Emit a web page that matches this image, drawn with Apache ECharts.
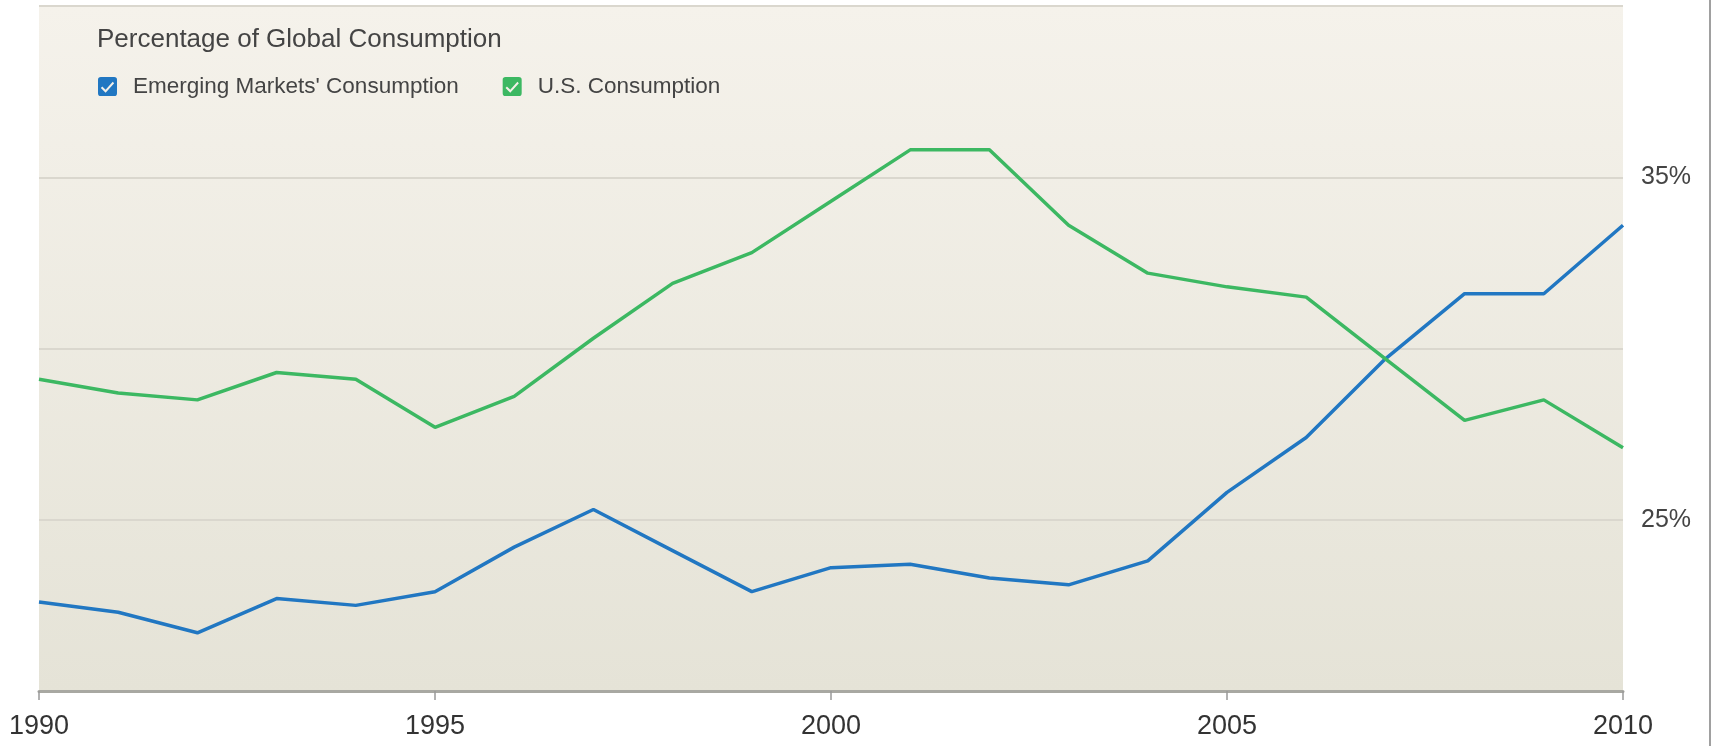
<!DOCTYPE html>
<html>
<head>
<meta charset="utf-8">
<title>Percentage of Global Consumption</title>
<script src="https://cdn.jsdelivr.net/npm/echarts@6/dist/echarts.min.js"></script>
<style>
  html, body { margin: 0; padding: 0; background: #fff; }
  #chart { width: 1717px; height: 746px; }
</style>
</head>
<body>
<div id="chart"></div>
<script>
// values, % of global consumption
var years = ['1990', '1991', '1992', '1993', '1994', '1995', '1996', '1997', '1998', '1999', '2000',
             '2001', '2002', '2003', '2004', '2005', '2006', '2007', '2008', '2009', '2010'];
var emergingMarkets = [22.6, 22.3, 21.7, 22.7, 22.5, 22.9, 24.2, 25.3, 24.1, 22.9, 23.6,
                       23.7, 23.3, 23.1, 23.8, 25.8, 27.4, 29.7, 31.6, 31.6, 33.6];
var usConsumption = [29.1, 28.7, 28.5, 29.3, 29.1, 27.7, 28.6, 30.3, 31.9, 32.8, 34.3,
                     35.8, 35.8, 33.6, 32.2, 31.8, 31.5, 29.7, 27.9, 28.5, 27.1];
var yLabels = [25, 35];

var font = '"Liberation Sans", Arial, Helvetica, sans-serif';
// rounded box with the tick cut out of it
var checkIcon = 'path://M3,0H17Q20,0 20,3V17Q20,20 17,20H3Q0,20 0,17V3Q0,0 3,0Z' +
                'M3,11.5L8,16.5L17,6.5L15.5,5L8,13.5L4.5,10Z';

var chart = echarts.init(document.getElementById('chart'));

chart.setOption({
    animation: false,
    title: {
        text: 'Percentage of Global Consumption',
        left: 97,
        top: 27,
        padding: 0,
        textStyle: { fontFamily: font, fontSize: 26, fontWeight: 'normal', color: '#444' }
    },
    legend: {
        left: 98,
        top: 75,
        padding: 0,
        icon: checkIcon,
        itemWidth: 19,
        itemHeight: 19,
        itemGap: 44,
        selectedMode: false,
        textStyle: { fontFamily: font, fontSize: 22.5, color: '#444', padding: [0, 0, 0, 11] },
        data: ["Emerging Markets' Consumption", 'U.S. Consumption']
    },
    grid: {
        left: 39,
        right: 94,
        top: 6,
        bottom: 55,
        show: true,
        borderWidth: 0,
        backgroundColor: new echarts.graphic.LinearGradient(0, 0, 0, 1, [
            { offset: 0, color: '#f5f2eb' },
            { offset: 1, color: '#e5e3d7' }
        ])
    },
    xAxis: {
        type: 'category',
        data: years,
        boundaryGap: false,
        axisLine: { lineStyle: { color: '#a8a8a2', width: 3 } },
        axisTick: { interval: 4, length: 9, lineStyle: { color: '#999', width: 1.5 } },
        axisLabel: { interval: 4, margin: 22, fontFamily: font, fontSize: 27, color: '#333' },
        splitLine: { show: false }
    },
    yAxis: {
        type: 'value',
        position: 'right',
        min: 20,
        max: 40,
        interval: 5,
        axisLine: { show: false },
        axisTick: { show: false },
        axisLabel: {
            margin: 18,
            fontFamily: font,
            fontSize: 25,
            color: '#444',
            formatter: function (v) {
                return yLabels.indexOf(v) >= 0 ? v + '%' : '';
            }
        },
        splitLine: { lineStyle: { color: '#dad7ce', width: 2 } }
    },
    series: [
        {
            name: "Emerging Markets' Consumption",
            type: 'line',
            data: emergingMarkets,
            showSymbol: false,
            color: '#2177c2',
            lineStyle: { width: 3.5, color: '#2177c2' }
        },
        {
            name: 'U.S. Consumption',
            type: 'line',
            data: usConsumption,
            showSymbol: false,
            color: '#3cb862',
            lineStyle: { width: 3.5, color: '#3cb862' }
        }
    ],
    graphic: [
        {
            type: 'line',
            shape: { x1: 1710, y1: 0, x2: 1710, y2: 746 },
            style: { stroke: '#a0a0a0', lineWidth: 2 }
        }
    ]
});
</script>
</body>
</html>
